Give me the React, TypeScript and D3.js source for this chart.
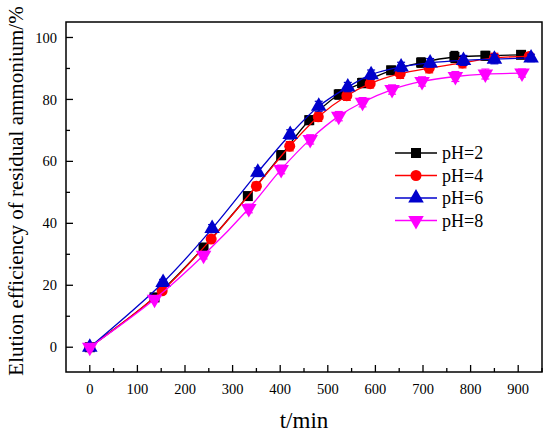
import React, { useEffect, useRef } from "react";
import * as d3 from "d3";

interface Series {
  name: string;
  color: string;
  symbol: string;
  time: number[];
  value: number[];
  err: number[];
}

// pH=2 and pH=8 were sampled at the same times, pH=4 and pH=6 too
const timePH2 = [0, 136, 239, 332, 402, 461, 523, 572, 633, 696, 766, 831, 906];
const valuePH2 = [0, 16.1, 32.2, 48.8, 62.0, 73.3, 81.6, 85.3, 89.4, 91.9, 93.7, 94.1, 94.4];
const errPH2 = [0.8, 1.0, 1.2, 1.2, 1.4, 1.4, 1.5, 1.5, 1.3, 1.5, 1.8, 1.4, 1.0];

const timePH4 = [0, 152, 255, 350, 420, 480, 540, 589, 652, 713, 783, 850, 923];
const valuePH4 = [0, 18.2, 34.9, 52.0, 64.9, 74.4, 81.2, 85.1, 88.3, 90.1, 91.8, 93.4, 93.9];
const errPH4 = [0.8, 1.0, 1.2, 1.3, 1.5, 1.5, 1.5, 1.4, 1.5, 1.5, 1.6, 1.5, 1.2];

const timePH6 = [0, 154, 257, 353, 421, 481, 542, 591, 654, 715, 785, 850, 927];
const valuePH6 = [0, 20.9, 38.3, 56.5, 68.7, 77.8, 84.0, 88.0, 90.5, 91.8, 92.6, 93.0, 93.4];
const errPH6 = [0.8, 1.0, 1.3, 1.4, 1.5, 1.6, 1.5, 1.5, 1.5, 1.4, 1.6, 1.5, 1.2];

const timePH8 = [0, 136, 239, 334, 402, 463, 523, 573, 635, 698, 768, 831, 908];
const valuePH8 = [0, 15.5, 29.7, 44.8, 57.4, 67.1, 74.6, 79.1, 83.2, 85.8, 87.4, 88.2, 88.5];
const errPH8 = [0.8, 1.0, 1.2, 1.4, 1.4, 1.5, 1.5, 1.5, 1.5, 1.5, 1.6, 1.6, 1.3];

const xTicks = [0, 100, 200, 300, 400, 500, 600, 700, 800, 900];
const yTicks = [0, 20, 40, 60, 80, 100];

const series: Series[] = [
  { name: "pH=2", color: "#000000", symbol: "square", time: timePH2, value: valuePH2, err: errPH2 },
  { name: "pH=4", color: "#ff0000", symbol: "circle", time: timePH4, value: valuePH4, err: errPH4 },
  { name: "pH=6", color: "#0000cc", symbol: "up", time: timePH6, value: valuePH6, err: errPH6 },
  { name: "pH=8", color: "#ff00ff", symbol: "down", time: timePH8, value: valuePH8, err: errPH8 },
];

const FONT = "'Liberation Serif', 'Times New Roman', serif";

const symbolPath = (kind: string) => {
  if (kind === "square") return d3.symbol().type(d3.symbolSquare).size(100)()!;
  if (kind === "circle") return d3.symbol().type(d3.symbolCircle).size(95)()!;
  return d3.symbol().type(d3.symbolTriangle).size(105)()!;
};

const App = () => {
  const svgRef = useRef<SVGSVGElement>(null);
  const svgWidth = 550;
  const svgHeight = 433;

  useEffect(() => {
    const MARGIN = { TOP: 22, BOTTOM: 61, LEFT: 66, RIGHT: 8 };
    const WIDTH = svgWidth - MARGIN.LEFT - MARGIN.RIGHT;
    const HEIGHT = svgHeight - MARGIN.TOP - MARGIN.BOTTOM;

    const svg = d3.select(svgRef.current);
    svg.selectAll("*").remove();

    const g = svg
      .append("g")
      .attr("transform", `translate(${MARGIN.LEFT}, ${MARGIN.TOP})`);

    const x = d3.scaleLinear().domain([-50, 950]).range([0, WIDTH]);
    const y = d3.scaleLinear().domain([-8, 105]).range([HEIGHT, 0]);

    // frame
    g.append("rect")
      .attr("width", WIDTH)
      .attr("height", HEIGHT)
      .attr("fill", "none")
      .attr("stroke", "#000")
      .attr("stroke-width", 1.5);

    // x ticks (pointing inwards)
    d3.range(0, 951, 50).forEach((t) => {
      const major = t % 100 === 0;
      g.append("line")
        .attr("x1", x(t))
        .attr("x2", x(t))
        .attr("y1", HEIGHT)
        .attr("y2", HEIGHT - (major ? 7 : 4))
        .attr("stroke", "#000")
        .attr("stroke-width", 1.3);
    });
    xTicks.forEach((t) => {
      g.append("text")
        .attr("x", x(t))
        .attr("y", HEIGHT + 22)
        .attr("text-anchor", "middle")
        .attr("font-family", FONT)
        .attr("font-size", 14.5)
        .text(t);
    });

    // y ticks
    d3.range(0, 101, 10).forEach((v) => {
      const major = v % 20 === 0;
      g.append("line")
        .attr("x1", 0)
        .attr("x2", major ? 7 : 4)
        .attr("y1", y(v))
        .attr("y2", y(v))
        .attr("stroke", "#000")
        .attr("stroke-width", 1.3);
    });
    yTicks.forEach((v) => {
      g.append("text")
        .attr("x", -9)
        .attr("y", y(v))
        .attr("dy", "0.35em")
        .attr("text-anchor", "end")
        .attr("font-family", FONT)
        .attr("font-size", 14.5)
        .text(v);
    });

    // titles
    svg
      .append("text")
      .attr("x", MARGIN.LEFT + WIDTH / 2)
      .attr("y", 428)
      .attr("text-anchor", "middle")
      .attr("font-family", FONT)
      .attr("font-size", 23)
      .text("t/min");

    svg
      .append("text")
      .attr("transform", `translate(23, ${MARGIN.TOP + HEIGHT / 2 - 6}) rotate(-90)`)
      .attr("text-anchor", "middle")
      .attr("font-family", FONT)
      .attr("font-size", 21)
      .text("Elution efficiency of residual ammonium/%");

    const line = d3.line().curve(d3.curveCatmullRom.alpha(0.5));

    series.forEach((s) => {
      const pts: [number, number][] = s.time.map((t, i) => [x(t), y(s.value[i])]);
      g.append("path")
        .attr("d", line(pts))
        .attr("fill", "none")
        .attr("stroke", s.color)
        .attr("stroke-width", 1.3);

      // error bars
      s.time.forEach((t, i) => {
        const cx = x(t);
        const top = y(s.value[i] + s.err[i]);
        const bot = y(s.value[i] - s.err[i]);
        const eb = g.append("g").attr("stroke", s.color).attr("stroke-width", 1.2);
        eb.append("line").attr("x1", cx).attr("x2", cx).attr("y1", top).attr("y2", bot);
        eb.append("line").attr("x1", cx - 4).attr("x2", cx + 4).attr("y1", top).attr("y2", top);
        eb.append("line").attr("x1", cx - 4).attr("x2", cx + 4).attr("y1", bot).attr("y2", bot);
      });

      g.selectAll(null)
        .data(s.time)
        .enter()
        .append("path")
        .attr("d", symbolPath(s.symbol))
        .attr(
          "transform",
          (t, i) =>
            `translate(${x(t)}, ${y(s.value[i])})${s.symbol === "down" ? " rotate(180)" : ""}`
        )
        .attr("fill", s.color);
    });

    // legend
    const legend = svg.append("g").attr("transform", "translate(395, 153)");
    series.forEach((s, i) => {
      const row = legend.append("g").attr("transform", `translate(0, ${i * 22.5})`);
      row.append("line")
        .attr("x1", 0)
        .attr("x2", 42)
        .attr("stroke", s.color)
        .attr("stroke-width", 1.3);
      row.append("path")
        .attr("d", symbolPath(s.symbol))
        .attr("transform", `translate(21, 0)${s.symbol === "down" ? " rotate(180)" : ""}`)
        .attr("fill", s.color);
      row.append("text")
        .attr("x", 47)
        .attr("dy", "0.35em")
        .attr("font-family", FONT)
        .attr("font-size", 18)
        .text(s.name);
    });
  }, []);

  return (
    <svg
      ref={svgRef}
      width={svgWidth}
      height={svgHeight}
      style={{ position: "absolute", left: 0, top: 0, background: "#fff" }}
    />
  );
};

export default App;
